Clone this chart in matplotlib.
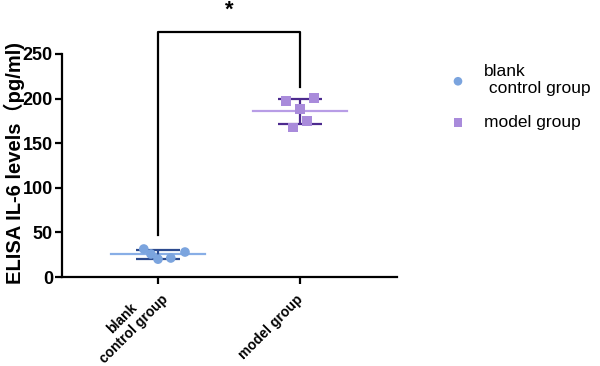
import matplotlib.pyplot as plt
import numpy as np

plt.rcParams['font.family'] = ['Liberation Sans', 'Noto Sans CJK SC', 'DejaVu Sans']

# 数据
groups = ["blank\ncontrol group", "model group"]
legend_labels = ["blank\n control group", "model group"]
blank_vals = [31.4, 25.8, 20.0, 21.3, 28.0]
model_vals = [197.3, 201.0, 188.0, 175.2, 167.4]
blank_x = [0.9, 0.95, 1.0, 1.09, 1.19]
model_x = [0.9, 1.1, 1.0, 1.05, 0.95]

point_colors = ["#7ba4de", "#a98bdb"]
mean_colors = ["#88aee6", "#b89de6"]
err_colors = ["#2c4a8e", "#4c2a8e"]
markers = ["o", "s"]

fig = plt.figure(figsize=(6, 3.66), dpi=100)
ax = fig.add_axes([62 / 600, 89 / 366, 335 / 600, 223 / 366])

series = [blank_vals, model_vals]
offsets = [blank_x, model_x]
for i, vals in enumerate(series):
    xc = i + 1
    vals = np.array(vals)
    m = vals.mean()
    sd = vals.std(ddof=1)
    ax.plot([xc - 0.33, xc + 0.33], [m, m], color=mean_colors[i], lw=1.6, zorder=2)
    ax.errorbar(xc, m, yerr=sd, fmt="none", ecolor=err_colors[i],
                elinewidth=1.6, capsize=16, capthick=1.6, zorder=3)
    xs = np.array(offsets[i]) - 1 + xc
    ax.scatter(xs, vals, marker=markers[i], s=48, color=point_colors[i],
               zorder=4, label=legend_labels[i], edgecolors="none")

# 显著性标记
ax.plot([1, 1, 2, 2], [47, 275, 275, 213], color="black", lw=1.6, clip_on=False)
ax.text(1.5, 287, "*", ha="center", va="bottom", fontsize=16, fontweight="bold")

ax.set_xlim(0.324, 2.683)
ax.set_ylim(0, 250)
ax.set_yticks([0, 50, 100, 150, 200, 250])
ax.set_xticks([1, 2])
ax.set_xticklabels([])
# x 轴标签（斜 45°）
label_offsets = [(-9, -4), (-4, -15)]
for i, g in enumerate(groups):
    ax.annotate(g, xy=(i + 1, 0), xycoords=("data", "axes fraction"),
                xytext=label_offsets[i], textcoords="offset pixels",
                rotation=45, ha="right", va="top", rotation_mode="anchor",
                multialignment="center", fontsize=10, fontweight="bold")
for lab in ax.get_yticklabels():
    lab.set_fontweight("bold")
    lab.set_fontsize(13)
ax.set_ylabel("ELISA IL-6 levels（pg/ml)", fontsize=14.5, fontweight="bold")
ax.yaxis.set_label_coords(-0.11, 0.51)

for s in ["top", "right"]:
    ax.spines[s].set_visible(False)
for s in ["left", "bottom"]:
    ax.spines[s].set_linewidth(1.6)
ax.tick_params(width=1.6, length=5, colors="black")
ax.tick_params(axis="y", pad=1.5)

ax.legend(loc="upper left", bbox_to_anchor=(425 / 600, 1 - 48 / 366),
          bbox_transform=fig.transFigure, frameon=False, fontsize=12.5,
          handletextpad=0.5, labelspacing=1.1, markerscale=0.9)

fig.savefig("out.png", dpi=100)
